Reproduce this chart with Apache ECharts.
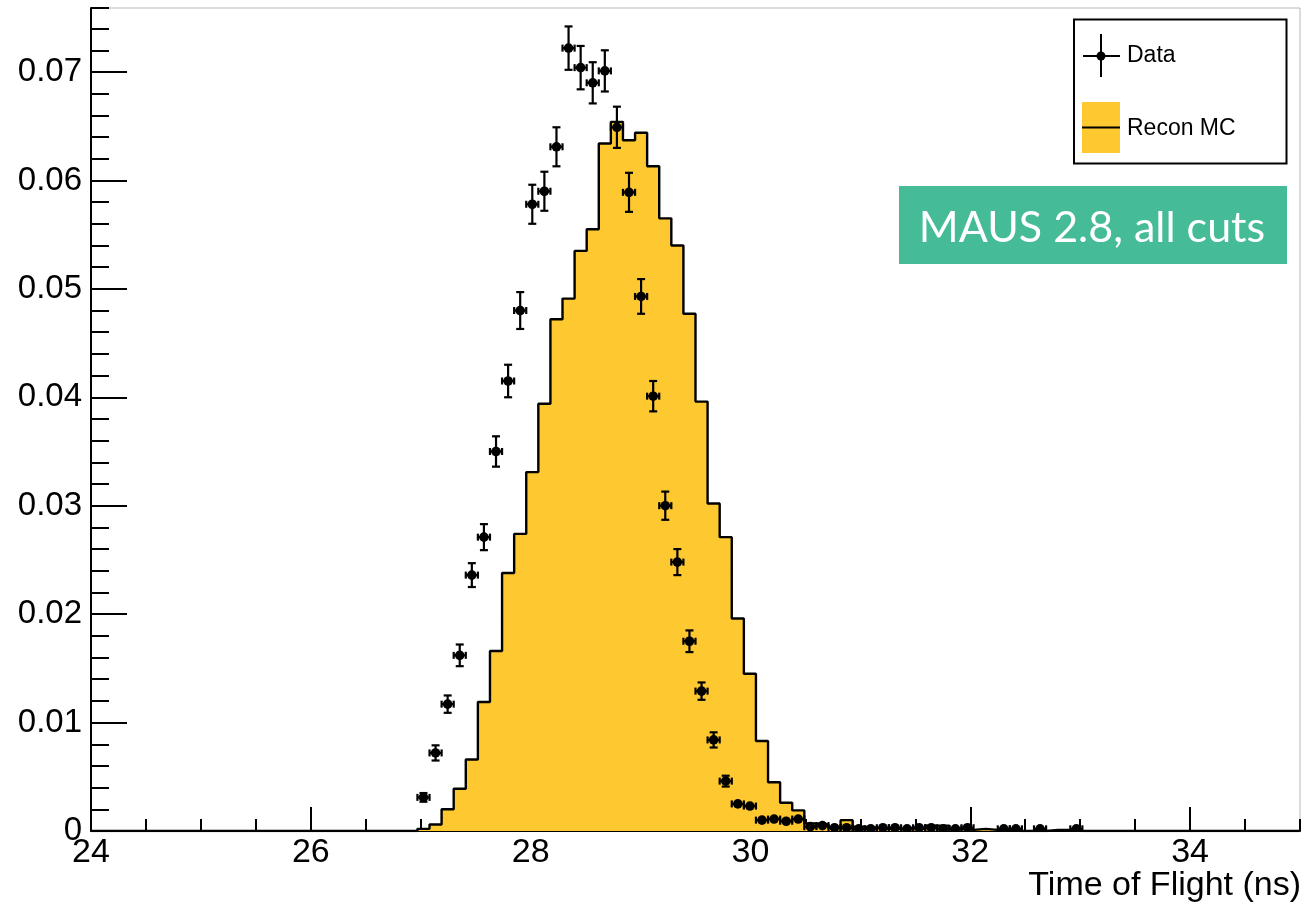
<!DOCTYPE html>
<html>
<head>
<meta charset="utf-8">
<script src="https://cdn.jsdelivr.net/npm/echarts@6/dist/echarts.min.js"></script>
<style>
html,body{margin:0;padding:0;background:#fff;}
#chart{width:1307px;height:906px;}
</style>
</head>
<body>
<div id="chart"></div>
<script>
// Histogram binning (ns)
const binStart = 26.97;
const binWidth = 0.11;

// Recon MC histogram heights per bin (normalised)
const mcValues = [
  0.0002, 0.0006, 0.0020, 0.0039, 0.0066, 0.0119, 0.0166, 0.0238, 0.0274, 0.0331,
  0.0394, 0.0472, 0.0491, 0.0535, 0.0555, 0.0634, 0.0654, 0.0637, 0.0644, 0.0613,
  0.0565, 0.0540, 0.0477, 0.0396, 0.0302, 0.0271, 0.0196, 0.0145, 0.0083, 0.0045,
  0.0026, 0.0019, 0.0007, 0.0006, 0.0003, 0.0010, 0.0004, 0.0003, 0.0002, 0.0002,
  0.0003, 0.0002, 0.0005, 0.0005, 0.0002, 0.0001, 0.0002, 0.0001, 0.0001, 0,
  0, 0, 0.0001, 0.0001, 0
];

// Data points per bin (null = empty bin)
const dataValues = [
  0.0031, 0.0072, 0.0117, 0.0162, 0.0236, 0.0271, 0.0350, 0.0415, 0.0480, 0.0578,
  0.0590, 0.0631, 0.0722, 0.0704, 0.0690, 0.0701, 0.0649, 0.0589, 0.0493, 0.0401,
  0.0300, 0.0248, 0.0175, 0.0129, 0.0084, 0.0046, 0.0025, 0.0023, 0.0010, 0.0011,
  0.0009, 0.0011, 0.0004, 0.0005, 0.0003, 0.0003, 0.0002, 0.0002, 0.0003, 0.0003,
  0.0002, 0.0003, 0.0003, 0.0002, 0.0002, 0.0003, null, null, 0.0002, 0.0002,
  null, 0.0002, null, null, 0.0002
];

// Vertical error bars (+/-) on data points
const dataErrors = [
  0.0004, 0.0007, 0.0008, 0.0010, 0.0011, 0.0012, 0.0014, 0.0015, 0.0017, 0.0018,
  0.0018, 0.0018, 0.0020, 0.0020, 0.0019, 0.0019, 0.0019, 0.0018, 0.0016, 0.0014,
  0.0013, 0.0012, 0.0010, 0.0008, 0.0007, 0.0005, 0.0003, 0.0003, 0.0002, 0.0002,
  0.0002, 0.0002, 0.0001, 0.0001, 0.0001, 0.0001, 0.0001, 0.0001, 0.0001, 0.0001,
  0.0001, 0.0001, 0.0001, 0.0001, 0.0001, 0.0001, null, null, 0.0001, 0.0001,
  null, 0.0001, null, null, 0.0001
];

const xMin = 24, xMax = 35, xMajor = 2, xMinor = 0.5;
const yMin = 0, yMax = 0.0759, yMajor = 0.01, yMinor = 0.002;

const legendNames = ['Data', 'Recon MC'];
const boxText = 'MAUS 2.8, all cuts';
const xTitle = 'Time of Flight (ns)';

// Build histogram outline points (left edges, step 'end')
const histPts = [[xMin, 0]];
mcValues.forEach((v, k) => histPts.push([binStart + k * binWidth, v]));
histPts.push([binStart + mcValues.length * binWidth, 0]);
histPts.push([xMax, 0]);

const pts = [];
dataValues.forEach((v, k) => {
  if (v !== null) pts.push([binStart + (k + 0.5) * binWidth, v, dataErrors[k]]);
});

const FONT = 'Liberation Sans, Arial, Helvetica, sans-serif';
const YELLOW = '#FDC830';

const chart = echarts.init(document.getElementById('chart'), null, {renderer: 'canvas'});
chart.setOption({
  animation: false,
  backgroundColor: '#fff',
  grid: {left: 91, right: 7, top: 8, bottom: 75, show: true, borderColor: '#b8b8b8', borderWidth: 1, backgroundColor: 'transparent'},
  xAxis: [
    {
      type: 'value', min: xMin, max: xMax, interval: xMajor, position: 'bottom',
      axisLine: {show: true, onZero: false, lineStyle: {color: '#000', width: 2}},
      axisTick: {show: true, inside: true, length: 24, lineStyle: {color: '#000', width: 2}},
      axisLabel: {show: true, color: '#000', fontSize: 34, fontFamily: FONT, margin: 5, showMaxLabel: false},
      splitLine: {show: false}
    },
    {
      type: 'value', min: xMin, max: xMax, interval: xMinor, position: 'bottom', offset: 0,
      axisLine: {show: false},
      axisTick: {show: true, inside: true, length: 12, lineStyle: {color: '#000', width: 2}},
      axisLabel: {show: false},
      splitLine: {show: false}
    }
  ],
  yAxis: [
    {
      type: 'value', min: yMin, max: yMax, interval: yMajor, position: 'left',
      axisLine: {show: true, onZero: false, lineStyle: {color: '#000', width: 2}},
      axisTick: {show: true, inside: true, length: 36, lineStyle: {color: '#000', width: 2}},
      axisLabel: {show: true, color: '#000', fontSize: 33, fontFamily: FONT, margin: 9, showMaxLabel: false,
        formatter: v => v === 0 ? '0' : v.toFixed(2)},
      splitLine: {show: false}
    },
    {
      type: 'value', min: yMin, max: yMax, interval: yMinor, position: 'left', offset: 0,
      axisLine: {show: false},
      axisTick: {show: true, inside: true, length: 18, lineStyle: {color: '#000', width: 2}},
      axisLabel: {show: false},
      splitLine: {show: false}
    }
  ],
  series: [
    {
      name: legendNames[1], type: 'line', xAxisIndex: 0, yAxisIndex: 0,
      data: histPts, step: 'end', symbol: 'none', clip: true,
      lineStyle: {color: '#000', width: 2.4},
      areaStyle: {color: YELLOW, opacity: 1},
      z: 2
    },
    {
      name: legendNames[0], type: 'custom', xAxisIndex: 0, yAxisIndex: 0,
      data: pts, clip: true, z: 5,
      renderItem: function (params, api) {
        const x = api.value(0), y = api.value(1), e = api.value(2);
        const c = api.coord([x, y]);
        const t = api.coord([x, y + e]);
        const b = api.coord([x, y - e]);
        const l = api.coord([x - binWidth / 2, y]);
        const r = api.coord([x + binWidth / 2, y]);
        const st = {stroke: '#000', lineWidth: 2.2, fill: null};
        const ch = [];
        ch.push({type: 'line', shape: {x1: c[0], y1: t[1], x2: c[0], y2: b[1]}, style: st});
        if (Math.abs(t[1] - c[1]) > 4) {
          ch.push({type: 'line', shape: {x1: c[0] - 4, y1: t[1], x2: c[0] + 4, y2: t[1]}, style: st});
          ch.push({type: 'line', shape: {x1: c[0] - 4, y1: b[1], x2: c[0] + 4, y2: b[1]}, style: st});
        }
        ch.push({type: 'line', shape: {x1: l[0], y1: c[1], x2: r[0], y2: c[1]}, style: st});
        ch.push({type: 'line', shape: {x1: l[0], y1: c[1] - 3.5, x2: l[0], y2: c[1] + 3.5}, style: st});
        ch.push({type: 'line', shape: {x1: r[0], y1: c[1] - 3.5, x2: r[0], y2: c[1] + 3.5}, style: st});
        ch.push({type: 'circle', shape: {cx: c[0], cy: c[1], r: 4.8}, style: {fill: '#000'}});
        return {type: 'group', children: ch};
      }
    }
  ],
  graphic: [
    // legend
    {type: 'rect', shape: {x: 1074, y: 19.5, width: 212.5, height: 144}, style: {fill: '#fff', stroke: '#000', lineWidth: 2}, z: 10},
    {type: 'line', shape: {x1: 1083, y1: 56, x2: 1120, y2: 56}, style: {stroke: '#000', lineWidth: 2}, z: 11},
    {type: 'line', shape: {x1: 1101, y1: 34, x2: 1101, y2: 77}, style: {stroke: '#000', lineWidth: 2}, z: 11},
    {type: 'circle', shape: {cx: 1101, cy: 56, r: 4.5}, style: {fill: '#000'}, z: 11},
    {type: 'text', x: 1127, y: 56, style: {text: legendNames[0], fill: '#000', fontSize: 23, fontFamily: FONT, verticalAlign: 'middle', align: 'left'}, z: 11},
    {type: 'rect', shape: {x: 1082, y: 102, width: 38, height: 51}, style: {fill: YELLOW}, z: 11},
    {type: 'line', shape: {x1: 1082, y1: 127.5, x2: 1120, y2: 127.5}, style: {stroke: '#000', lineWidth: 2}, z: 12},
    {type: 'text', x: 1127, y: 129, style: {text: legendNames[1], fill: '#000', fontSize: 23, fontFamily: FONT, verticalAlign: 'middle', align: 'left'}, z: 11},
    // annotation box
    {type: 'rect', shape: {x: 899, y: 186, width: 388, height: 78}, style: {fill: '#45BB98'}, z: 10},
    {type: 'text', x: 1092, y: 228, style: {text: boxText, fill: '#fff', fontSize: 43, fontFamily: 'Lato, Noto Sans, sans-serif', verticalAlign: 'middle', align: 'center'}, z: 11},
    // x axis title
    {type: 'text', x: 1301, y: 886, style: {text: xTitle, fill: '#000', fontSize: 34, fontFamily: FONT, verticalAlign: 'middle', align: 'right'}, z: 11}
  ]
});
</script>
</body>
</html>
